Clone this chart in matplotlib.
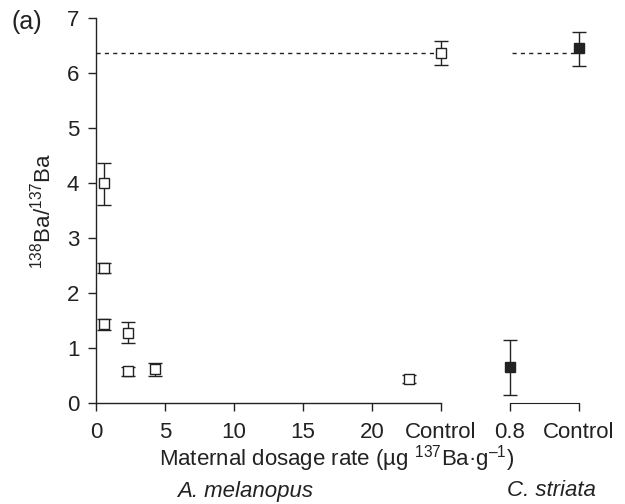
import numpy as np
import matplotlib
matplotlib.use("Agg")
import matplotlib.pyplot as plt

plt.rcParams['font.family'] = ['Liberation Sans', 'DejaVu Sans']
plt.rcParams['mathtext.fontset'] = 'custom'
plt.rcParams['mathtext.rm'] = 'Liberation Sans'
plt.rcParams['mathtext.it'] = 'Liberation Sans:italic'
plt.rcParams['mathtext.default'] = 'regular'

# A. melanopus dosed fish (dose, ratio, lower err, upper err)
mel_dose = [0.6, 0.6, 0.6, 2.3, 2.3, 4.3, 22.7]
mel_ratio = [4.0, 2.45, 1.43, 1.28, 0.58, 0.61, 0.44]
mel_err_lo = [0.40, 0.09, 0.10, 0.18, 0.08, 0.11, 0.07]
mel_err_hi = [0.37, 0.09, 0.10, 0.19, 0.08, 0.11, 0.07]
# A. melanopus control (placed at the "Control" tick)
mel_ctrl_pos = 25
mel_ctrl = 6.37
mel_ctrl_lo, mel_ctrl_hi = 0.22, 0.21

# C. striata (0.8 dose and control)
str_labels = ["0.8", "Control"]
str_ratio = [0.65, 6.45]
str_err_lo = [0.50, 0.33]
str_err_hi = [0.50, 0.30]

x_ticks = [0, 5, 10, 15, 20, 25]
x_ticklabels = ["0", "5", "10", "15", "20", "Control"]

ink = '#222222'
fs = 16

fig = plt.figure(figsize=(6.25, 5.04), dpi=100)
ax = fig.add_axes([96/625, 1 - 403/504, 345/625, 385/504])
ax2 = fig.add_axes([510/625, 1 - 403/504, 69/625, 385/504])

# left panel
ax.axhline(mel_ctrl, color=ink, ls=(0, (3, 3)), lw=1, zorder=1)
ax.errorbar(mel_dose, mel_ratio, yerr=[mel_err_lo, mel_err_hi], fmt='s',
            ms=7.5, mfc='white', mec=ink, mew=1, ecolor=ink, elinewidth=1,
            capsize=4.7, capthick=1.2, clip_on=False, zorder=3)
eb = ax.errorbar([mel_ctrl_pos], [mel_ctrl], yerr=[[mel_ctrl_lo], [mel_ctrl_hi]],
                 fmt='s', ms=7.5, mfc='white', mec=ink, mew=1, ecolor=ink,
                 elinewidth=1, capsize=4.7, capthick=1.2, zorder=3)
for art in eb.lines[0:1] + tuple(eb.lines[1]) + tuple(eb.lines[2]):
    art.set_clip_on(False)

ax.set_xlim(0, 25)
ax.set_ylim(0, 7)
ax.set_xticks(x_ticks)
ax.set_xticklabels(x_ticklabels)
ax.set_yticks(range(0, 8))
for s in ['top', 'right']:
    ax.spines[s].set_visible(False)
for s in ['left', 'bottom']:
    ax.spines[s].set_color(ink)
    ax.spines[s].set_linewidth(1)
ax.tick_params(colors=ink, labelsize=fs, length=6, width=1)
ax.tick_params(axis='x', pad=8)
ax.tick_params(axis='y', pad=6)
ax.set_ylabel('$^{138}$Ba/$^{137}$Ba', fontsize=fs, color=ink, labelpad=8)

# right panel
xs = np.arange(len(str_labels))
ax2.plot([0.03, 1], [mel_ctrl, mel_ctrl], color=ink, ls=(0, (3, 3)), lw=1, zorder=1,
         clip_on=False)
eb2 = ax2.errorbar(xs, str_ratio, yerr=[str_err_lo, str_err_hi], fmt='s',
                   ms=7.5, mfc=ink, mec=ink, mew=1, ecolor=ink, elinewidth=1,
                   capsize=4.7, capthick=1.2, zorder=3)
for art in eb2.lines[0:1] + tuple(eb2.lines[1]) + tuple(eb2.lines[2]):
    art.set_clip_on(False)
ax2.set_xlim(0, 1)
ax2.set_ylim(0, 7)
ax2.set_xticks(xs)
ax2.set_xticklabels(str_labels)
ax2.set_yticks([])
for s in ['top', 'right', 'left']:
    ax2.spines[s].set_visible(False)
ax2.spines['bottom'].set_color(ink)
ax2.tick_params(colors=ink, labelsize=fs, length=6, width=1, pad=8)

# labels
fig.text(337/625, 1 - 459/504, 'Maternal dosage rate (µg $^{137}$Ba·g$^{\u2013 1}$)',
         ha='center', va='center', fontsize=fs, color=ink)
fig.text(245/625, 1 - 491/504, 'A. melanopus', style='italic', ha='center',
         va='center', fontsize=fs, color=ink)
fig.text(551/625, 1 - 491/504, 'C. striata', style='italic', ha='center',
         va='center', fontsize=fs, color=ink)
fig.text(12/625, 1 - 22/504, '(a)', ha='left', va='center', fontsize=18, color=ink)

fig.savefig('out.png', dpi=100)
